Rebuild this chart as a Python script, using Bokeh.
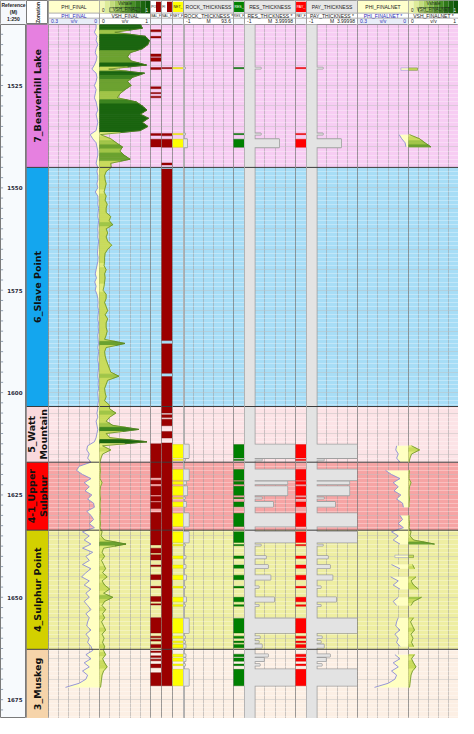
import math
from bokeh.plotting import figure
from bokeh.layouts import row, column
from bokeh.models import Range1d, Span, SingleIntervalTicker, FixedTicker
from bokeh.core.properties import value
from bokeh.embed import file_html
from bokeh.resources import INLINE

# ---------------- data ----------------
DEPTH_TOP, DEPTH_BASE = 1510.1, 1679.6

zone_names = ["7_Beaverhill Lake", "6_Slave Point", "5_Watt\nMountain",
              "4-1_Upper\nSulphur", "4_Sulphur Point", "3_Muskeg"]
zone_tops = [1510.1, 1545.0, 1603.4, 1617.0, 1633.6, 1662.7]
zone_bases = [1545.0, 1603.4, 1617.0, 1633.6, 1662.7, 1679.6]
zone_label_colors = ["#E680E0", "#14A6EE", "#F9D9DD", "#FF0000", "#D3D000", "#F6D4AA"]
zone_fill_colors = ["#F7CDF3", "#A7DDF6", "#FCE3E6", "#F6A4A4", "#EEEEA2", "#FCEFE4"]

depth_ticks = [1525, 1550, 1575, 1600, 1625, 1650, 1675]

# curve samples every 1 m, one list per zone, first sample depth in curve_starts
curve_starts = [1510, 1545, 1604, 1618, 1634, 1663]
phi_beaverhill = [0.02, 0.02, 0.03, 0.015, 0.02, 0.01, 0.02, 0.025, 0.015, 0.02,
                  0.03, 0.045, 0.02, 0.015, 0.02, 0.03, 0.02, 0.025, 0.03, 0.02,
                  0.015, 0.01, 0.02, 0.015, 0.01, 0.015, 0.02, 0.055, 0.04, 0.02,
                  0.015, 0.01, 0.01, 0.015, 0.02]
phi_slave = [0.01, 0.015, 0.01, 0.01, 0.015, 0.01, 0.025, 0.01, 0.008, 0.01,
             0.005, 0.008, 0.01, 0.005, 0.008, 0.01, 0.008, 0.01, 0.005, 0.008,
             0.01, 0.012, 0.008, 0.01, 0.015, 0.02, 0.025, 0.018, 0.028, 0.02,
             0.025, 0.015, 0.01, 0.008, 0.01, 0.005, 0.008, 0.01, 0.006, 0.008,
             0.005, 0.01, 0.008, 0.006, 0.01, 0.005, 0.008, 0.01, 0.006, 0.005,
             0.008, 0.01, 0.006, 0.008, 0.005, 0.01, 0.008, 0.006, 0.01]
phi_watt = [0.01, 0.015, 0.01, 0.02, 0.015, 0.01, 0.015, 0.02, 0.03, 0.07, 0.075, 0.06, 0.07, 0.05]
phi_upper = [0.12, 0.135, 0.10, 0.05, 0.09, 0.06, 0.085, 0.045, 0.07, 0.035, 0.03, 0.075, 0.05, 0.035, 0.06, 0.03]
phi_sulphur = [0.10, 0.06, 0.09, 0.05, 0.10, 0.04, 0.08, 0.06, 0.10, 0.05,
               0.08, 0.105, 0.06, 0.09, 0.05, 0.08, 0.06, 0.09, 0.07, 0.05,
               0.08, 0.06, 0.07, 0.075, 0.05, 0.08, 0.06, 0.07, 0.05]
phi_muskeg = [0.04, 0.08, 0.05, 0.09, 0.06, 0.10, 0.07, 0.08, 0.12, 0.20]

vsh_beaverhill = [0.80, 0.84, 0.30, 0.90, 0.98, 0.95, 0.84, 0.60, 0.55, 0.62,
                  0.92, 0.18, 0.88, 0.65, 0.55, 0.62, 0.50, 0.40, 0.35, 0.72,
                  0.84, 0.93, 0.80, 0.96, 0.84, 0.95, 0.80, 0.02, 0.22, 0.33,
                  0.45, 0.40, 0.48, 0.60, 0.22]
vsh_slave = [0.23, 0.13, 0.10, 0.11, 0.13, 0.11, 0.09, 0.13, 0.11, 0.15,
             0.13, 0.13, 0.22, 0.19, 0.26, 0.13, 0.16, 0.13, 0.16, 0.24,
             0.16, 0.11, 0.10, 0.10, 0.09, 0.13, 0.10, 0.11, 0.10, 0.09,
             0.07, 0.13, 0.13, 0.10, 0.13, 0.16, 0.11, 0.16, 0.13, 0.13,
             0.15, 0.13, 0.10, 0.50, 0.13, 0.10, 0.11, 0.13, 0.16, 0.19,
             0.22, 0.38, 0.16, 0.13, 0.10, 0.11, 0.13, 0.10, 0.19]
vsh_watt = [0.20, 0.32, 0.20, 0.13, 0.26, 0.77, 0.13, 0.20, 0.93, 0.06, 0.22, 0.06, 0.03, 0.01]
vsh_upper = [0.01, 0.02, 0.01, 0.01, 0.05, 0.02, 0.01, 0.01, 0.02, 0.01, 0.01, 0.02, 0.01, 0.01, 0.02, 0.01]
vsh_sulphur = [0.05, 0.03, 0.10, 0.52, 0.08, 0.05, 0.10, 0.04, 0.08, 0.12,
               0.06, 0.15, 0.05, 0.10, 0.20, 0.08, 0.26, 0.10, 0.05, 0.12,
               0.06, 0.10, 0.04, 0.08, 0.12, 0.05, 0.09, 0.06, 0.10]
vsh_muskeg = [0.08, 0.12, 0.06, 0.10, 0.15, 0.08, 0.05, 0.04, 0.03, 0.02]

# flag intervals
flag1_tops = [1511.4, 1513.0, 1517.3, 1518.2, 1520.6, 1525.3, 1526.7, 1527.6, 1536.7, 1538.1,
              1612.5, 1621.4, 1622.9, 1625.4, 1626.8, 1629.3, 1638.0, 1639.6, 1642.1, 1644.5,
              1647.3, 1649.8, 1651.6, 1655.0, 1659.5, 1660.3, 1661.5, 1663.1, 1664.3, 1665.1,
              1666.3, 1668.4]
flag1_bases = [1511.9, 1513.4, 1517.9, 1519.1, 1521.1, 1525.8, 1527.0, 1528.0, 1537.2, 1540.0,
               1620.8, 1622.3, 1625.0, 1626.5, 1628.3, 1637.2, 1639.2, 1640.9, 1642.5, 1645.7,
               1647.7, 1651.0, 1651.9, 1658.7, 1659.9, 1660.7, 1662.3, 1663.5, 1664.7, 1665.5,
               1667.2, 1671.6]
flag2_tops = [1520.6, 1536.7, 1538.1, 1543.9, 1545.4, 1588.1, 1596.1, 1605.4, 1606.5, 1609.5, 1612.3]
flag2_bases = [1520.9, 1537.3, 1540.1, 1544.4, 1587.3, 1595.3, 1605.0, 1606.1, 1608.1, 1611.1, 1671.6]

# net / reservoir / pay intervals
net_tops = [1520.6, 1536.7, 1538.1, 1612.7, 1616.3, 1618.8, 1621.7, 1622.9, 1625.6, 1626.7,
            1629.5, 1634.0, 1637.1, 1639.9, 1642.1, 1644.6, 1647.3, 1650.0, 1651.8, 1655.2,
            1659.5, 1660.7, 1661.5, 1663.9, 1664.8, 1666.3, 1667.6]
net_bases = [1520.9, 1537.0, 1540.1, 1616.0, 1616.6, 1621.4, 1622.4, 1625.1, 1625.9, 1627.9,
             1632.7, 1636.6, 1637.4, 1640.5, 1642.9, 1645.7, 1647.7, 1651.1, 1652.2, 1658.7,
             1660.0, 1661.1, 1662.3, 1664.5, 1665.6, 1666.7, 1671.6]
res_tops, res_bases = list(net_tops), list(net_bases)
pay_tops, pay_bases = list(net_tops), list(net_bases)
rock_thickness = [2, 2, 6, 9, 2, 9, 4, 6, 2, 4, 9, 9, 2, 3, 3, 4, 2, 4, 2, 9, 2, 2, 3, 3, 3, 2, 9]
res_thickness = [0.6, 0.6, 2.4, 4.5, 0.7, 4.5, 3.2, 3.2, 0.7, 1.8, 4.5, 4.5, 0.6, 1.1, 1.3, 1.55,
                 0.4, 1.9, 0.4, 4.5, 0.5, 0.4, 0.7, 1.3, 0.9, 0.5, 4.5]
pay_thickness = [0.6, 0.6, 2.4, 4.5, 0.7, 4.5, 3.2, 3.2, 0.7, 1.8, 4.5, 4.5, 0.6, 1.1, 1.3, 1.55,
                 0.4, 1.9, 0.4, 4.5, 0.5, 0.4, 0.7, 1.3, 0.9, 0.5, 4.5]

# ---------------- assemble curves ----------------
phi_parts = [phi_beaverhill, phi_slave, phi_watt, phi_upper, phi_sulphur, phi_muskeg]
vsh_parts = [vsh_beaverhill, vsh_slave, vsh_watt, vsh_upper, vsh_sulphur, vsh_muskeg]
depth, phi, vsh = [], [], []
for s, pa, va in zip(curve_starts, phi_parts, vsh_parts):
    n = min(len(pa), len(va))
    for i in range(n):
        depth.append(s + i)
        phi.append(pa[i])
        vsh.append(va[i])

net_mask = [any(d + 0.5 > t and d - 0.5 < b for t, b in zip(net_tops, net_bases)) for d in depth]


def runs(mask):
    out, start = [], None
    for i, m in enumerate(mask):
        if m and start is None:
            start = i
        if (not m) and start is not None:
            out.append((start, i))
            start = None
    if start is not None:
        out.append((start, len(mask)))
    return out


def vsh_color(v):
    if v < 0.1:
        return "#E2EC7A"
    if v < 0.25:
        return "#C9DB5C"
    if v < 0.45:
        return "#A0C547"
    if v < 0.65:
        return "#6CA230"
    if v < 0.8:
        return "#3D8420"
    return "#1B6510"


yr = Range1d(start=DEPTH_BASE, end=DEPTH_TOP)
HEADER_H, BODY_H = 24, 694
FONT = "Liberation Sans"


def make_body(w, x0, x1, ngrid=5, zone_bg=True, zone_lines=True, hgrid=True, bg="white"):
    p = figure(width=w, height=BODY_H, x_range=Range1d(x0, x1), y_range=yr,
               output_backend="svg", toolbar_location=None,
               x_axis_location=None, y_axis_location=None, min_border=0,
               outline_line_color="#7A7A7A", background_fill_color=bg)
    p.min_border_left = p.min_border_right = p.min_border_top = p.min_border_bottom = 0
    if zone_bg:
        p.quad(left=x0, right=x1, top=zone_tops, bottom=zone_bases,
               fill_color=zone_fill_colors, line_color=None, level="image")
    if ngrid:
        p.xgrid.ticker = FixedTicker(ticks=[x0 + (x1 - x0) * k / ngrid for k in range(1, ngrid)])
        p.xgrid.grid_line_color = "#9A9A9A"
        p.xgrid.grid_line_alpha = 0.5
    else:
        p.xgrid.grid_line_color = None
    if hgrid:
        p.ygrid.ticker = SingleIntervalTicker(interval=5, num_minor_ticks=5)
        p.ygrid.grid_line_color = "#8C8C8C"
        p.ygrid.grid_line_alpha = 0.25
        p.ygrid.minor_grid_line_color = "#FFFFFF"
        p.ygrid.minor_grid_line_alpha = 0.3
    else:
        p.ygrid.grid_line_color = None
    if zone_lines:
        for d in zone_tops[1:]:
            p.add_layout(Span(location=d, dimension="width", line_color="#3C3C3C", line_width=1))
    return p


def make_header(w):
    p = figure(width=w, height=HEADER_H, x_range=Range1d(0, 1), y_range=Range1d(0, 1),
               output_backend="svg", toolbar_location=None,
               x_axis_location=None, y_axis_location=None, min_border=0,
               outline_line_color="#7A7A7A")
    p.min_border_left = p.min_border_right = p.min_border_top = p.min_border_bottom = 0
    p.grid.grid_line_color = None
    return p


def htext(p, x, y, s, size="5px", color="#222222", align="center", bold=False, angle=0.0):
    p.text(x=[x], y=[y], text=[s], text_font=value(FONT), text_font_size=size,
           text_color=color, text_align=align, text_baseline="middle",
           text_font_style="bold" if bold else "normal", angle=angle)


R1, R2 = 0.47, 0.26


def rows_bg(p, c1, c2="white", c3="white"):
    p.quad(left=0, right=1, top=1, bottom=R1, fill_color=c1, line_color="#A8A8A8", line_width=0.7)
    p.quad(left=0, right=1, top=R1, bottom=R2, fill_color=c2, line_color="#A8A8A8", line_width=0.7)
    p.quad(left=0, right=1, top=R2, bottom=0, fill_color=c3, line_color="#A8A8A8", line_width=0.7)


vsh_grad = ["#F2F8B8", "#DDEB9A", "#C3DC7C", "#A6CB60", "#86B84A",
            "#66A336", "#488E26", "#2F7818", "#1B640E", "#0D5508"]


def curve_header(w, kind, name, lo, unit, hi, blue):
    h = make_header(w)
    col = "#2B2BB5" if blue else "#222222"
    if kind == "phi":
        rows_bg(h, "#FFFFCC", "white", "#E8EEF8" if blue else "white")
        htext(h, 0.5, 0.74, name.replace(" *", ""))
    elif kind == "vsh":
        rows_bg(h, "white", "white", "white")
        n = len(vsh_grad)
        h.quad(left=[k / n for k in range(n)], right=[(k + 1) / n for k in range(n)],
               top=1, bottom=R1, fill_color=vsh_grad, line_color=None)
        htext(h, 0.5, 0.88, "Vshale", size="4.5px", color="#1A301A")
        h.quad(left=0.2, right=0.8, top=0.7, bottom=0.52, fill_color=None, line_color="#203020", line_width=0.5)
        htext(h, 0.05, 0.61, "0", size="4.5px", align="left")
        htext(h, 0.5, 0.61, name.replace(" *", ""), size="4.5px", color="#1A301A")
        htext(h, 0.95, 0.61, "1", size="4.5px", color="white", align="right")
    else:
        rows_bg(h, "#E6E6E6", "white", "white")
        htext(h, 0.5, 0.74, name.replace(" *", ""))
    htext(h, 0.5, 0.365, name, color=col)
    htext(h, 0.05, 0.13, lo, color=col, align="left")
    htext(h, 0.5, 0.13, unit, color=col)
    htext(h, 0.95, 0.13, hi, color=col, align="right")
    return h


def flag_header(w, swatch, top_txt, name, full=False):
    h = make_header(w)
    rows_bg(h, "white", "white", "#F4F7FB")
    if full:
        h.quad(left=0.05, right=0.95, top=0.95, bottom=0.52, fill_color=swatch, line_color=None)
        htext(h, 0.5, 0.74, top_txt, size="3.5px", color="#222222" if swatch == "#FFFF00" else "white")
    else:
        h.quad(left=0.5, right=0.95, top=0.95, bottom=0.52, fill_color=swatch, line_color=None)
        htext(h, 0.06, 0.74, top_txt, size="3.5px", align="left")
    htext(h, 0.5, 0.365, name, size="3.2px")
    return h


headers, bodies = [], []

# depth track
hd = make_header(26)
hd.quad(left=0, right=1, top=1, bottom=0, fill_color="#F5F8FC", line_color=None)
htext(hd, 0.5, 0.8, "Reference", size="5px", bold=True)
htext(hd, 0.5, 0.52, "(M)", size="5px", bold=True)
htext(hd, 0.5, 0.24, "1:250", size="5px", bold=True)
bd = make_body(26, 0, 1, ngrid=0, zone_bg=False, zone_lines=False, hgrid=False, bg="#F7FAFD")
minor_ticks = [DEPTH_TOP + 2.4 + 2.5 * k for k in range(68)]
bd.segment(x0=0, y0=minor_ticks, x1=0.1, y1=minor_ticks, line_color="#7A8AA0", line_width=0.8)
bd.text(x=[0.55] * len(depth_ticks), y=depth_ticks, text=[str(t) for t in depth_ticks],
        text_font=value("DejaVu Sans"), text_font_size="5.5px", text_font_style="bold",
        text_color="#2A2A3A", text_align="center", text_baseline="middle")
headers.append(hd)
bodies.append(bd)

# zonation track
hz = make_header(22)
htext(hz, 0.5, 0.5, "Zonation", size="5px", bold=True, angle=math.pi / 2)
bz = make_body(22, 0, 1, ngrid=0, zone_bg=False, hgrid=False)
bz.quad(left=0, right=1, top=zone_tops, bottom=zone_bases, fill_color=zone_label_colors, line_color=None)
bz.text(x=[0.5] * len(zone_names), y=[(t + b) / 2 for t, b in zip(zone_tops, zone_bases)],
        text=zone_names, angle=math.pi / 2, text_font=value("DejaVu Sans"),
        text_font_size="9.5px", text_font_style="bold", text_color="#111111",
        text_align="center", text_baseline="middle", text_line_height=1.05)
headers.append(hz)
bodies.append(bz)


def draw_phi(p, mask):
    for a, b in runs(mask):
        ys, xs = depth[a:b], phi[a:b]
        if b - a >= 2:
            p.harea(x1=xs, x2=0, y=ys, fill_color="#FFFFC2")
            p.line(xs, ys, line_color="#8B8BD8", line_width=0.9)
        else:
            p.hbar(y=ys, left=xs, right=0, height=0.6, fill_color="#FFFFC2", line_color="#8B8BD8", line_width=0.5)


def draw_vsh(p, mask):
    for a, b in runs(mask):
        ys, vs = depth[a:b], vsh[a:b]
        if b - a >= 2:
            xs_, ys_, cs_ = [], [], []
            for i in range(len(vs) - 1):
                d0, d1, v0, v1 = ys[i], ys[i + 1], vs[i], vs[i + 1]
                dm, vm = (d0 + d1) / 2, (v0 + v1) / 2
                xs_ += [[0, v0, vm, 0], [0, vm, v1, 0]]
                ys_ += [[d0, d0, dm, dm], [dm, dm, d1, d1]]
                cs_ += [vsh_color(v0), vsh_color(v1)]
            p.patches(xs_, ys_, fill_color=cs_, line_color=cs_, line_width=0.9)
            p.line(vs, ys, line_color="#5A8424", line_width=0.7)
        else:
            p.hbar(y=ys, left=0, right=vs, height=0.6, fill_color=vsh_color(vs[0]), line_color="#5A8424", line_width=0.5)


all_mask = [True] * len(depth)

# PHI_FINAL
headers.append(curve_header(51, "phi", "PHI_FINAL", "0.3", "v/v", "0", True))
bp = make_body(51, 0.3, 0)
draw_phi(bp, all_mask)
bodies.append(bp)

# VSH_FINAL
headers.append(curve_header(51, "vsh", "VSH_FINAL", "0", "v/v", "1", False))
bv = make_body(51, 0, 1)
draw_vsh(bv, all_mask)
bodies.append(bv)


def flag_body(w, tops, bases, color, edge):
    p = make_body(w, 0, 1, ngrid=0)
    p.quad(left=0, right=1, top=tops, bottom=bases, fill_color=color, line_color=edge, line_width=0.4)
    return p


headers.append(flag_header(11, "#9B0000", "PO", "BAL_F"))
bodies.append(flag_body(11, flag1_tops, flag1_bases, "#9B0000", "#7A0000"))
headers.append(flag_header(11, "#9B0000", "FI", "NAL_F"))
bodies.append(flag_body(11, flag2_tops, flag2_bases, "#9B0000", "#7A0000"))
headers.append(flag_header(11, "#FFFF00", "NET_", "NET_F", full=True))
bodies.append(flag_body(11, net_tops, net_bases, "#FFFF00", "#C8C800"))


def thickness_body(w, x0, x1, tops, bases, vals):
    p = make_body(w, x0, x1)
    lefts = [x0] * (len(tops) + 1)
    rights = [0] + list(vals)
    ts = [DEPTH_TOP] + list(tops)
    bs = [DEPTH_BASE] + list(bases)
    p.quad(left=lefts, right=rights, top=ts, bottom=bs, fill_color="#E3E3E3",
           line_color="#A0A0A0", line_width=1.6)
    p.quad(left=lefts, right=rights, top=ts, bottom=bs, fill_color="#E3E3E3", line_color=None)
    return p


headers.append(curve_header(50, "thk", "ROCK_THICKNESS *", "-1", "M", "93.6", False))
bodies.append(thickness_body(50, -1, 93.6, net_tops, net_bases, rock_thickness))

headers.append(flag_header(11, "#008000", "RES_", "RES_F", full=True))
bodies.append(flag_body(11, res_tops, res_bases, "#008000", "#006000"))
headers.append(curve_header(51, "thk", "RES_THICKNESS *", "-1", "M", "3.99998", False))
bodies.append(thickness_body(51, -1, 3.99998, res_tops, res_bases, res_thickness))

headers.append(flag_header(11, "#FF0000", "PAY_", "PAY_F", full=True))
bodies.append(flag_body(11, pay_tops, pay_bases, "#FF0000", "#D00000"))
headers.append(curve_header(51, "thk", "PAY_THICKNESS *", "-1", "M", "3.99998", False))
bodies.append(thickness_body(51, -1, 3.99998, pay_tops, pay_bases, pay_thickness))

# NET curves
headers.append(curve_header(51, "phi", "PHI_FINALNET *", "0.3", "v/v", "0", True))
bpn = make_body(51, 0.3, 0)
draw_phi(bpn, net_mask)
bodies.append(bpn)

headers.append(curve_header(50, "vsh", "VSH_FINALNET *", "0", "v/v", "1", False))
bvn = make_body(50, 0, 1)
draw_vsh(bvn, net_mask)
bodies.append(bvn)

layout = column(row(*headers, spacing=0), row(*bodies, spacing=0), spacing=0)
open("out.html", "w").write(file_html(layout, INLINE))
